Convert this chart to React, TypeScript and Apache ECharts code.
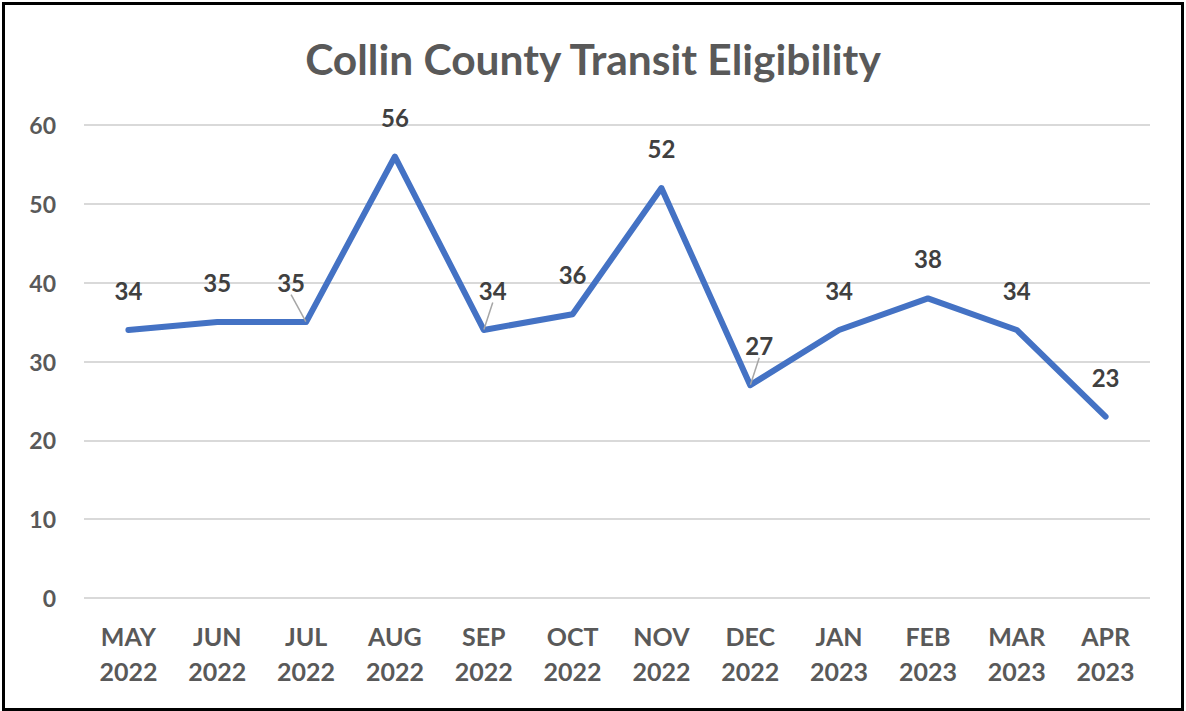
import React, { useEffect, useRef } from "react";
import * as echarts from "echarts";

const title = "Collin County Transit Eligibility";
const categories = [
  "MAY\n2022", "JUN\n2022", "JUL\n2022", "AUG\n2022", "SEP\n2022", "OCT\n2022",
  "NOV\n2022", "DEC\n2022", "JAN\n2023", "FEB\n2023", "MAR\n2023", "APR\n2023",
];
const values = [34, 35, 35, 56, 34, 36, 52, 27, 34, 38, 34, 23];
const yTicks = { min: 0, max: 60, interval: 10 };
const leaderIdx = [2, 4, 7];

const FONT = "Lato, 'Open Sans', sans-serif";

export default function App() {
  const ref = useRef<HTMLDivElement>(null);
  useEffect(() => {
    document.body.style.margin = "0";
    const chart = echarts.init(ref.current!, null, { renderer: "svg" });
    const data = values.map((v, i) =>
      leaderIdx.includes(i)
        ? { value: v, labelLine: { show: true, lineStyle: { color: "#a6a6a6", width: 1.5 } } }
        : { value: v }
    );
    chart.setOption({
      animation: false,
      backgroundColor: "#ffffff",
      title: {
        text: title,
        left: "center",
        top: 32,
        textStyle: { fontFamily: FONT, fontSize: 42.5, fontWeight: "bold", color: "#595959" },
      },
      grid: { left: 84, right: 36, top: 125, bottom: 113 },
      xAxis: {
        type: "category",
        data: categories,
        boundaryGap: true,
        axisLine: { show: false },
        axisTick: { show: false },
        axisLabel: {
          margin: 20,
          fontFamily: FONT,
          fontSize: 25,
          fontWeight: "bold",
          color: "#595959",
          lineHeight: 35,
          interval: 0,
        },
      },
      yAxis: {
        type: "value",
        min: yTicks.min,
        max: yTicks.max,
        interval: yTicks.interval,
        axisLine: { show: false },
        axisTick: { show: false },
        splitLine: { lineStyle: { color: "#d9d9d9", width: 2 } },
        axisLabel: {
          margin: 28,
          fontFamily: FONT,
          fontSize: 23,
          fontWeight: "bold",
          color: "#595959",
        },
      },
      series: [
        {
          type: "line",
          data,
          showSymbol: true,
          symbol: "circle",
          symbolSize: 1,
          itemStyle: { color: "rgba(0,0,0,0)", borderWidth: 0 },
          lineStyle: { color: "#4472C4", width: 6, join: "round", cap: "round" },
          label: {
            show: true,
            position: "top",
            distance: 27,
            fontFamily: FONT,
            fontSize: 24,
            fontWeight: "bold",
            color: "#404040",
          },
          labelLine: { show: false, lineStyle: { color: "#a6a6a6", width: 1.5 } },
          labelLayout: (p: any) => {
            if (p.dataIndex === 2) return { dx: -15, dy: 0 };
            if (p.dataIndex === 4) return { dx: 9, dy: 0 };
            if (p.dataIndex === 7) return { dx: 9, dy: 0 };
            return {};
          },
        },
      ],
    });
    return () => chart.dispose();
  }, []);
  return (
    <div style={{ position: "absolute", left: 0, top: 0, width: 1186, height: 711 }}>
      <div ref={ref} style={{ position: "absolute", left: 0, top: 0, width: 1186, height: 711 }} />
      <div
        style={{
          position: "absolute",
          left: 2,
          top: 2,
          width: 1182,
          height: 709,
          border: "3px solid #000",
          boxSizing: "border-box",
          pointerEvents: "none",
        }}
      />
    </div>
  );
}
